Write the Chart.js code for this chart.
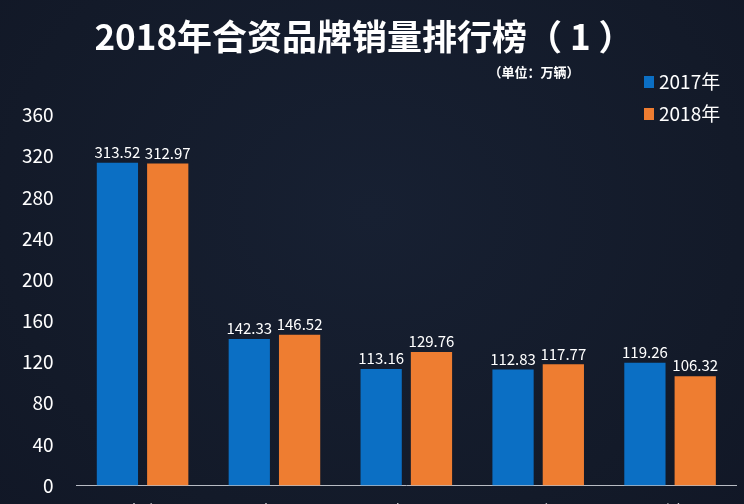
<!DOCTYPE html>
<html>
<head>
<meta charset="utf-8">
<script src="https://cdn.jsdelivr.net/npm/chart.js@4/dist/chart.umd.min.js"></script>
<style>
  html, body { margin: 0; padding: 0; background: #131a29; overflow: hidden; }
  #wrap { position: relative; width: 744px; height: 530px; background: radial-gradient(ellipse at 50% 40%, #172032 0%, #131a29 70%, #111726 100%); }
  canvas { display: block; }
</style>
</head>
<body>
<div id="wrap"><canvas id="c" width="744" height="530"></canvas></div>
<script>
const titleText = "2018年合资品牌销量排行榜（ 1 ）";
const unitText = "（单位：万辆）";
const categories = ["大众", "本田", "丰田", "日产", "别克"];
const seriesNames = ["2017年", "2018年"];
const sales2017 = [313.52, 142.33, 113.16, 112.83, 119.26];
const sales2018 = [312.97, 146.52, 129.76, 117.77, 106.32];
const yTicks = [0, 40, 80, 120, 160, 200, 240, 280, 320, 360];
const colors = ["#0b6fc4", "#ee7d31"];

const font = "'Noto Sans CJK SC', 'Noto Sans', sans-serif";

const overlay = {
  id: 'overlay',
  afterDatasetsDraw(chart) {
    const ctx = chart.ctx;
    ctx.save();
    ctx.fillStyle = '#ffffff';
    ctx.font = "15px " + font;
    ctx.textAlign = 'center';
    ctx.textBaseline = 'bottom';
    chart.data.datasets.forEach((ds, di) => {
      const meta = chart.getDatasetMeta(di);
      meta.data.forEach((bar, i) => {
        ctx.fillText(ds.data[i].toFixed(2), bar.x, bar.y - 3);
      });
    });
    ctx.font = "bold 35px " + font;
    ctx.textBaseline = 'middle';
    ctx.fillText(titleText, 364, 37);
    ctx.font = "bold 13px " + font;
    ctx.fillText(unitText, 534, 72);
    ctx.textAlign = 'left';
    ctx.font = "19px " + font;
    chart.data.datasets.forEach((ds, di) => {
      const y = 82 + di * 32;
      ctx.fillStyle = ds.backgroundColor;
      ctx.fillRect(644, y - 6, 10, 12);
      ctx.fillStyle = '#ffffff';
      ctx.fillText(ds.label, 659, y);
    });
    ctx.restore();
  }
};

new Chart(document.getElementById('c'), {
  type: 'bar',
  data: {
    labels: categories,
    datasets: [
      { label: seriesNames[0], data: sales2017, backgroundColor: colors[0] },
      { label: seriesNames[1], data: sales2018, backgroundColor: colors[1] }
    ]
  },
  options: {
    responsive: false,
    animation: false,
    devicePixelRatio: 1,
    layout: { padding: { top: 115, left: 7, right: 8, bottom: 0 } },
    plugins: { legend: { display: false }, title: { display: false }, tooltip: { enabled: false } },
    datasets: { bar: { categoryPercentage: 0.763, barPercentage: 0.82 } },
    scales: {
      x: {
        grid: { display: false },
        border: { display: true, color: '#b8bcc4', width: 1 },
        ticks: { color: '#ffffff', font: { family: font, size: 17 }, padding: 8 }
      },
      y: {
        min: 0, max: 360,
        afterBuildTicks(axis) { axis.ticks = yTicks.map(v => ({ value: v })); },
        grid: { display: false },
        border: { display: false },
        ticks: { color: '#ffffff', font: { family: font, size: 19 }, padding: 15 }
      }
    }
  },
  plugins: [overlay]
});
</script>
</body>
</html>
